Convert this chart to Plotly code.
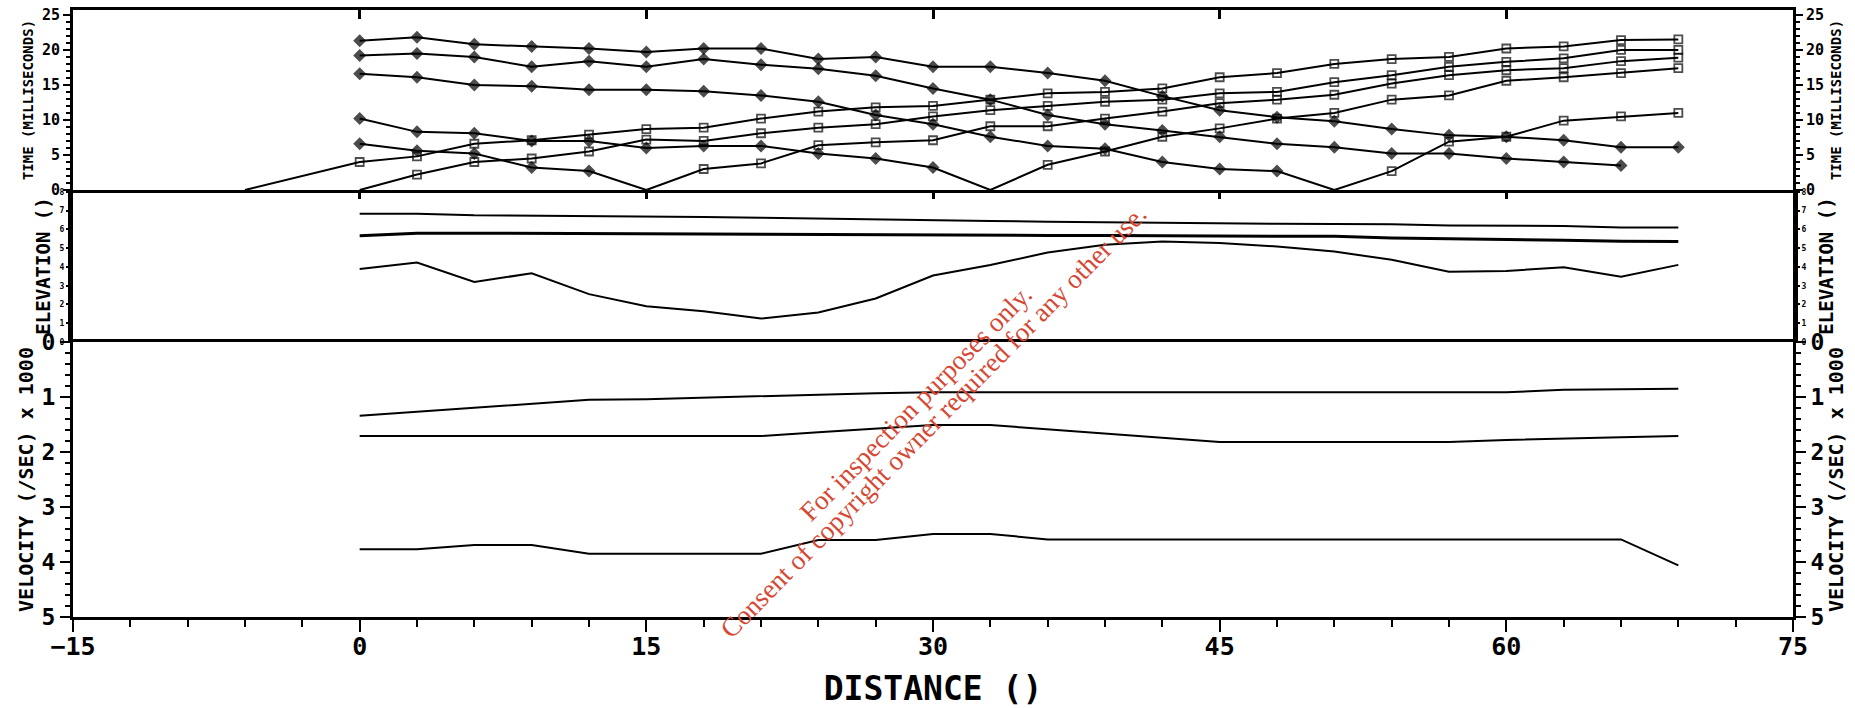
import plotly.graph_objects as go

# ---------------- DATA ----------------
# Travel times (ms), reverse shots (diamonds)
d1_x = [0, 3, 6, 9, 12, 15, 18, 21, 24, 27, 30, 33, 36, 39, 42, 45, 48, 51, 54, 57, 60, 63, 66, 69]
d1_t = [21.3, 21.8, 20.8, 20.5, 20.2, 19.7, 20.2, 20.2, 18.7, 19.0, 17.6, 17.6, 16.7, 15.6, 13.4, 11.4, 10.4, 9.8, 8.7, 7.8, 7.6, 7.1, 6.1, 6.1]
d2_x = [0, 3, 6, 9, 12, 15, 18, 21, 24, 27, 30, 33, 36, 39, 42, 45, 48, 51, 54, 57, 60, 63, 66]
d2_t = [19.2, 19.5, 19.0, 17.6, 18.4, 17.6, 18.7, 17.9, 17.3, 16.3, 14.5, 12.9, 10.7, 9.4, 8.5, 7.6, 6.6, 6.1, 5.2, 5.2, 4.5, 4.0, 3.5]
d3_x = [0, 3, 6, 9, 12, 15, 18, 21, 24, 27, 30, 33, 36, 39, 42, 45, 48, 51]
d3_t = [16.6, 16.1, 15.0, 14.8, 14.3, 14.3, 14.1, 13.5, 12.6, 10.7, 9.4, 7.6, 6.3, 5.9, 4.0, 3.0, 2.7, 0]
d4_x = [0, 3, 6, 9, 12, 15, 18, 21, 24, 27, 30, 33]
d4_t = [10.2, 8.3, 8.1, 7.0, 7.0, 6.0, 6.3, 6.3, 5.2, 4.5, 3.2, 0]
d5_x = [0, 3, 6, 9, 12, 15]
d5_t = [6.6, 5.6, 5.2, 3.2, 2.7, 0]

# Travel times (ms), forward shots (squares)
s1_x = [-6, 0, 3, 6, 9, 12, 15, 18, 21, 24, 27, 30, 33, 36, 39, 42, 45, 48, 51, 54, 57, 60, 63, 66, 69]
s1_t = [0, 4.0, 4.8, 6.6, 7.1, 7.9, 8.7, 8.9, 10.2, 11.2, 11.8, 12.0, 12.9, 13.8, 14.0, 14.5, 16.1, 16.7, 18.0, 18.7, 19.0, 20.2, 20.5, 21.4, 21.5]
s2_x = [0, 3, 6, 9, 12, 15, 18, 21, 24, 27, 30, 33, 36, 39, 42, 45, 48, 51, 54, 57, 60, 63, 66, 69]
s2_t = [0, 2.2, 4.0, 4.5, 5.5, 7.2, 7.0, 8.1, 8.9, 9.4, 10.5, 11.4, 12.0, 12.6, 12.9, 13.8, 14.0, 15.4, 16.4, 17.6, 18.3, 18.8, 20.0, 20.0]
s3_x = [15, 18, 21, 24, 27, 30, 33, 36, 39, 42, 45, 48, 51, 54, 57, 60, 63, 66, 69]
s3_t = [0, 3.0, 3.8, 6.4, 6.8, 7.1, 9.1, 9.1, 10.2, 11.2, 12.4, 12.9, 13.6, 15.2, 16.4, 17.1, 17.4, 18.4, 18.9]
s4_x = [33, 36, 39, 42, 45, 48, 51, 54, 57, 60, 63, 66, 69]
s4_t = [0, 3.6, 5.5, 7.6, 8.8, 10.2, 11.0, 12.9, 13.5, 15.6, 16.1, 16.7, 17.4]
s5_x = [51, 54, 57, 60, 63, 66, 69]
s5_t = [0, 2.7, 6.9, 7.6, 9.9, 10.5, 11.0]

# Elevation / velocity profiles
prof_x = [0, 3, 6, 9, 12, 15, 18, 21, 24, 27, 30, 33, 36, 39, 42, 45, 48, 51, 54, 57, 60, 63, 66, 69]
elev_surface = [6.84, 6.84, 6.75, 6.73, 6.73, 6.72, 6.66, 6.62, 6.57, 6.52, 6.48, 6.45, 6.41, 6.38, 6.34, 6.30, 6.30, 6.29, 6.27, 6.21, 6.21, 6.18, 6.10, 6.10]
elev_layer1 = [5.66, 5.80, 5.80, 5.80, 5.78, 5.77, 5.76, 5.74, 5.72, 5.70, 5.70, 5.69, 5.68, 5.67, 5.66, 5.66, 5.66, 5.63, 5.54, 5.50, 5.50, 5.42, 5.37, 5.36]
elev_layer2 = [3.89, 4.23, 3.20, 3.66, 2.55, 1.91, 1.64, 1.25, 1.57, 2.32, 3.54, 4.10, 4.77, 5.18, 5.36, 5.27, 5.09, 4.82, 4.38, 3.75, 3.79, 3.98, 3.48, 4.11]
vel_1 = [1.34, 1.27, 1.20, 1.12, 1.05, 1.04, 1.01, 0.98, 0.95, 0.93, 0.915, 0.915, 0.915, 0.915, 0.915, 0.915, 0.915, 0.915, 0.915, 0.915, 0.915, 0.87, 0.86, 0.85]
vel_2 = [1.71, 1.71, 1.71, 1.71, 1.71, 1.71, 1.71, 1.71, 1.64, 1.57, 1.51, 1.51, 1.59, 1.66, 1.74, 1.82, 1.82, 1.82, 1.82, 1.82, 1.78, 1.75, 1.73, 1.71]
vel_3 = [3.77, 3.77, 3.69, 3.69, 3.85, 3.85, 3.85, 3.85, 3.60, 3.60, 3.49, 3.49, 3.59, 3.59, 3.59, 3.59, 3.59, 3.59, 3.59, 3.59, 3.59, 3.59, 3.59, 4.06]

time_ticks = [0, 5, 10, 15, 20, 25]
elev_ticks = [0, 1, 2, 3, 4, 5, 6, 7, 8]
vel_ticks = [0, 1, 2, 3, 4, 5]
dist_ticks = [-15, 0, 15, 30, 45, 60, 75]

watermark_lines = ["For inspection purposes only.",
                   "Consent of copyright owner required for any other use."]

# ---------------- STYLE ----------------
FONT = "DejaVu Sans Mono"
BLACK = "black"
W, H = 1855, 708
ML, MT = 73, 10
PLOT_R, PLOT_B = 1793, 617
MR, MB = W - PLOT_R, H - PLOT_B
plot_h = H - MT - MB
plot_w = W - ML - MR
# panel boundaries (pixels from the top)
top_b, mid_b, bot_b = 190, 342, PLOT_B
dom_top = [(bot_b - top_b) / plot_h, 1.0]
dom_mid = [(bot_b - mid_b) / plot_h, (bot_b - top_b) / plot_h]
dom_bot = [0.0, (bot_b - mid_b) / plot_h]

fig = go.Figure()


def sizes(ts, s):
    return [0 if t == 0 else s for t in ts]


for xs, ts in [(d1_x, d1_t), (d2_x, d2_t), (d3_x, d3_t), (d4_x, d4_t), (d5_x, d5_t)]:
    fig.add_trace(go.Scatter(
        x=xs, y=ts, mode="lines+markers", xaxis="x3", yaxis="y",
        line=dict(color=BLACK, width=2),
        marker=dict(symbol="diamond", size=sizes(ts, 10), color=BLACK, line=dict(width=0)),
        hoverinfo="skip"))
for xs, ts in [(s1_x, s1_t), (s2_x, s2_t), (s3_x, s3_t), (s4_x, s4_t), (s5_x, s5_t)]:
    fig.add_trace(go.Scatter(
        x=xs, y=ts, mode="lines+markers", xaxis="x3", yaxis="y",
        line=dict(color=BLACK, width=2),
        marker=dict(symbol="square-open", size=sizes(ts, 8), color=BLACK, line=dict(width=1.8, color=BLACK)),
        hoverinfo="skip"))

for ys, w in [(elev_surface, 2), (elev_layer1, 3), (elev_layer2, 2)]:
    fig.add_trace(go.Scatter(x=prof_x, y=ys, mode="lines", xaxis="x2", yaxis="y2",
                             line=dict(color=BLACK, width=w), hoverinfo="skip"))
for ys in [vel_1, vel_2, vel_3]:
    fig.add_trace(go.Scatter(x=prof_x, y=ys, mode="lines", xaxis="x", yaxis="y3",
                             line=dict(color=BLACK, width=2), hoverinfo="skip"))

# invisible copies so the right-hand axes are drawn
fig.add_trace(go.Scatter(x=d1_x, y=d1_t, mode="lines", xaxis="x3", yaxis="y4", opacity=0, hoverinfo="skip"))
fig.add_trace(go.Scatter(x=prof_x, y=elev_surface, mode="lines", xaxis="x2", yaxis="y5", opacity=0, hoverinfo="skip"))
fig.add_trace(go.Scatter(x=prof_x, y=vel_1, mode="lines", xaxis="x", yaxis="y6", opacity=0, hoverinfo="skip"))

xrange = [dist_ticks[0], dist_ticks[-1]]
nogrid = dict(showgrid=False, zeroline=False)


def top_ticks(anchor, showline, **kw):
    d = dict(range=xrange, side="top", anchor=anchor, ticks="inside", tickvals=dist_ticks,
             ticklen=9, tickwidth=3, tickcolor=BLACK, showticklabels=False,
             showline=showline, linecolor=BLACK, linewidth=3, mirror=showline, **nogrid)
    d.update(kw)
    return d


def yax(rng, domain, anchor, ticks, ticklen, mdt, mlen, fsize, title, tsize, standoff,
        side="left", overlay=None):
    d = dict(range=rng, domain=domain, anchor=anchor, side=side,
             tickvals=ticks, ticks="outside", ticklen=ticklen, tickwidth=2, tickcolor=BLACK,
             ticklabeloverflow="allow",
             minor=dict(ticks="outside", dtick=mdt, ticklen=mlen, tickwidth=1.5, tickcolor=BLACK, showgrid=False),
             tickfont=dict(family=FONT, size=fsize, color=BLACK, weight="bold"),
             title=dict(text=title, standoff=standoff,
                        font=dict(family=FONT, size=tsize, color=BLACK, weight="bold")),
             showline=True, linecolor=BLACK, linewidth=3, mirror=True, **nogrid)
    if overlay:
        d["overlaying"] = overlay
    return d


fig.update_layout(
    width=W, height=H,
    margin=dict(l=ML, r=MR, t=MT, b=MB, autoexpand=False),
    paper_bgcolor="white", plot_bgcolor="white",
    showlegend=False,
    xaxis=dict(range=xrange, anchor="y3", tickvals=dist_ticks, ticks="outside", ticklen=12, tickwidth=2,
               tickcolor=BLACK, ticklabelstandoff=-7, ticklabeloverflow="allow",
               minor=dict(ticks="outside", dtick=3, tick0=0, ticklen=7, tickwidth=2, tickcolor=BLACK, showgrid=False),
               tickfont=dict(family=FONT, size=25, color=BLACK, weight="bold"),
               title=dict(text="DISTANCE ()", font=dict(family=FONT, size=33, color=BLACK, weight="bold"),
                          standoff=18),
               showline=True, linecolor=BLACK, linewidth=3, mirror=True, **nogrid),
    xaxis2=top_ticks("y2", False),
    xaxis3=top_ticks("y", True),
    xaxis4=top_ticks("y3", False, overlaying="x"),
    yaxis=yax([0, 25.7], dom_top, "x3", time_ticks, 7, 1, 4, 15, "TIME (MILLISECONDS)", 14, 6),
    yaxis4=yax([0, 25.7], dom_top, "x3", time_ticks, 7, 1, 4, 15, "TIME (MILLISECONDS)", 14, 9,
               side="right", overlay="y"),
    yaxis2=yax([0, 8.1], dom_mid, "x2", elev_ticks, 4, 0.1, 2, 8, "ELEVATION ()", 19, 4),
    yaxis5=yax([0, 8.1], dom_mid, "x2", elev_ticks, 4, 0.1, 2, 8, "ELEVATION ()", 19, 15,
               side="right", overlay="y2"),
    yaxis3=yax([5, 0], dom_bot, "x", vel_ticks, 10, 0.2, 5, 23, "VELOCITY (/SEC) x 1000", 20, 3),
    yaxis6=yax([5, 0], dom_bot, "x", vel_ticks, 10, 0.2, 5, 23, "VELOCITY (/SEC) x 1000", 20, 0,
               side="right", overlay="y3"),
)

# watermark: two rotated lines, centred about one point and offset perpendicular to the text
for (cx, cy), line in zip([(916, 403), (934, 421)], watermark_lines):
    fig.add_annotation(
        text=line, xref="paper", yref="paper",
        x=(cx - ML) / plot_w, y=(bot_b - cy) / plot_h,
        xanchor="center", yanchor="middle", textangle=-45.5, showarrow=False,
        font=dict(family="Liberation Serif", size=27, color="rgb(214,72,52)"),
    )

# remove the browser's default 8px page margin so the figure fills the window exactly
fig.write_html("out.html", config={"displayModeBar": False},
               post_script="document.body.style.margin='0';")
